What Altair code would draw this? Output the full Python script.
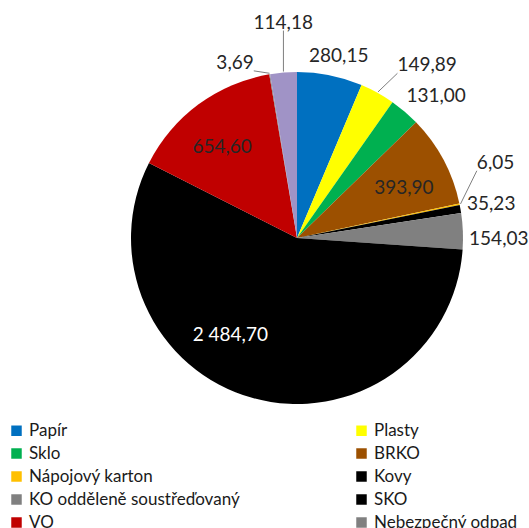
import math
import altair as alt
import pandas as pd

# ---- data ----
CATEGORIES = ["Papír", "Plasty", "Sklo", "BRKO", "Nápojový karton", "Kovy",
              "KO odděleně soustřeďovaný", "SKO", "VO", "Nebezpečný odpad", "Textil"]
VALUES = [280.15, 149.89, 131.00, 393.90, 6.05, 35.23, 154.03, 2484.70, 654.60, 3.69, 114.18]
COLORS = ["#0070C0", "#FFFF00", "#00B050", "#9C5000", "#FFC000", "#000000",
          "#808080", "#000000", "#C00000", "#808080", "#A093C6"]

# legend: two columns, read row by row in the reference (last entry is cut off there)
LEGEND_ROWS = 5

# ---- label layout (Excel-like placement) ----
LABEL_PLACE = ["out", "far", "out", "in", "far", "out", "out", "in", "in", "out", "high"]
LABEL_SHIFT_DEG = [1.5, 8, 4, 3, -9, 0, 2.6, 19, -3, -10, 1]
LEADER = [False, True, False, False, True, False, False, False, False, True, True]

FONT = "Lato"
LABEL_SIZE = 19
R = 166
VIEW = 2 * R
CX = CY = R


def fmt(v):
    s = f"{v:,.2f}"
    return s.replace(",", " ").replace(".", ",")


def text_half_width(s):
    w = 0
    for ch in s:
        if ch.isdigit():
            w += 0.58 * LABEL_SIZE
        elif ch == ",":
            w += 0.23 * LABEL_SIZE
        else:
            w += 0.19 * LABEL_SIZE
    return w / 2


total = sum(VALUES)
rows = []
cum = 0.0
for i, (c, v) in enumerate(zip(CATEGORIES, VALUES)):
    start = cum / total * 360
    cum += v
    end = cum / total * 360
    mid = (start + end) / 2
    la = mid + LABEL_SHIFT_DEG[i]
    lab = fmt(v)
    hw = text_half_width(lab)
    hh = 8
    s, co = math.sin(math.radians(la)), math.cos(math.radians(la))
    if LABEL_PLACE[i] == "in":
        rl = 118
    else:
        rl = R + 6 + hw * abs(s) + hh * abs(co)
        if LABEL_PLACE[i] == "far":
            rl += 20
        elif LABEL_PLACE[i] == "high":
            rl += 34
    lx, ly = CX + rl * s, CY - rl * co
    sx = CX + (R + 1) * math.sin(math.radians(mid))
    sy = CY - (R + 1) * math.cos(math.radians(mid))
    ex = min(max(sx, lx - hw), lx + hw)
    ey = min(max(sy, ly - hh), ly + hh)
    rows.append(dict(cat=c, value=v, order=i, start=start, end=end, la=la, rl=rl,
                     label=lab, leader=LEADER[i], sx=sx, sy=sy, ex=ex, ey=ey))

df = pd.DataFrame(rows)

# Vega fills legend columns top-to-bottom; reorder so it reads row by row
shown = CATEGORIES[: 2 * LEGEND_ROWS]
legend_order = shown[0::2] + shown[1::2]

theta_scale = alt.Scale(domain=[0, 360], range=[0, 2 * math.pi])

arcs = alt.Chart(df).mark_arc(stroke=None).encode(
    theta=alt.Theta("start:Q", scale=theta_scale),
    theta2="end:Q",
    color=alt.Color(
        "cat:N",
        scale=alt.Scale(domain=CATEGORIES, range=COLORS),
        legend=alt.Legend(
            title=None, orient="none", legendX=-123, legendY=350,
            values=legend_order,
            columns=2, columnPadding=113, rowPadding=5,
            symbolType="square", symbolSize=110, symbolStrokeWidth=0,
            labelFont=FONT, labelFontSize=17, labelColor="#1a1a1a",
            labelOffset=4, labelLimit=400, padding=0,
        ),
    ),
    order=alt.Order("order:Q"),
)

texts = alt.Chart(df).mark_text(font=FONT, fontSize=LABEL_SIZE, align="center", baseline="middle").encode(
    theta=alt.Theta("la:Q", scale=theta_scale),
    radius=alt.Radius("rl:Q", scale=None),
    text="label:N",
    color=alt.condition(alt.datum.cat == "SKO", alt.value("white"), alt.value("#262626")),
)

leaders = alt.Chart(df).transform_filter(alt.datum.leader == True).mark_rule(
    color="#7F7F7F", strokeWidth=1
).encode(
    x=alt.X("sx:Q", scale=None),
    y=alt.Y("sy:Q", scale=None),
    x2="ex:Q",
    y2="ey:Q",
)

chart = alt.layer(arcs, leaders, texts).properties(
    width=VIEW, height=VIEW,
    padding={"left": 131, "top": 72, "right": 66, "bottom": 124},
    autosize="none",
    background="white",
).configure_view(stroke=None)

chart.save("out.html", embed_options={"renderer": "svg", "actions": False})
